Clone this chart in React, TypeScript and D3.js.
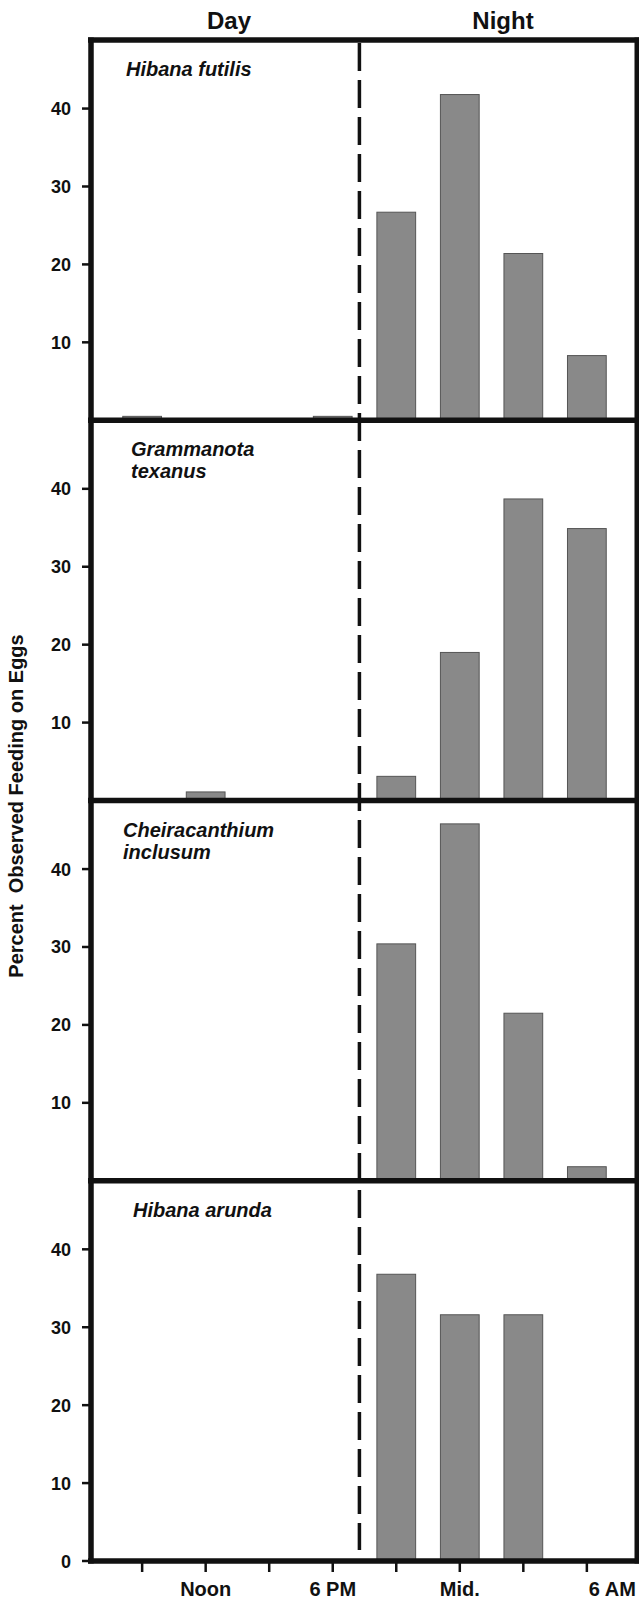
import * as d3 from 'd3'

// time points (every 3 h), only every other one is labelled
const times = ['9 AM', 'Noon', '3 PM', '6 PM', '9 PM', 'Mid.', '3 AM', '6 AM']
const shownLabels = ['', 'Noon', '', '6 PM', '', 'Mid.', '', '6 AM']

// percent observed feeding on eggs, one array per species
const hibanaFutilis = [0.5, 0, 0, 0.5, 26.7, 41.8, 21.4, 8.3]
const grammanotaTexanus = [0, 1.1, 0, 0, 3.1, 19.0, 38.7, 34.9]
const cheiracanthiumInclusum = [0, 0, 0, 0, 30.4, 45.8, 21.5, 1.8]
const hibanaArunda = [0, 0, 0, 0, 36.8, 31.6, 31.6, 0]

const panelNames = [
  ['Hibana futilis'],
  ['Grammanota', 'texanus'],
  ['Cheiracanthium', 'inclusum'],
  ['Hibana arunda'],
]
const panelValues = [hibanaFutilis, grammanotaTexanus, cheiracanthiumInclusum, hibanaArunda]
const yTicks = [10, 20, 30, 40]
const yMax = 48.8
const duskOffset = 0.42 // sunset line, in steps after 6 PM

const W = 639
const H = 1601
const left = 91
const right = 637
const top = 40
const bottom = 1561
const font = '"Liberation Sans", Arial, sans-serif'
const ink = '#111'

export default function App() {
  const x = d3.scaleBand().domain(times).range([left, right + 1]).paddingInner(0.39).paddingOuter(0.5)
  const bw = x.bandwidth()
  const panelH = (bottom - top) / panelNames.length
  const duskX = (x('6 PM') as number) + bw / 2 + duskOffset * x.step()
  const nameX = [126, 131, 123, 133]

  return (
    <div style={{ position: 'absolute', left: 0, top: 0 }}>
      <svg width={W} height={H} style={{ display: 'block', background: '#fff' }} fontFamily={font}>
        <text x={229} y={29} textAnchor="middle" fontSize={24} fontWeight="bold" fill={ink}>Day</text>
        <text x={503} y={29} textAnchor="middle" fontSize={24} fontWeight="bold" fill={ink}>Night</text>

        {panelValues.map((vals, p) => {
          const y0 = top + panelH * (p + 1)
          const y = d3.scaleLinear().domain([0, yMax]).range([y0, y0 - panelH])
          const ticks = p === panelValues.length - 1 ? [0, ...yTicks] : yTicks
          return (
            <g key={p}>
              {vals.map((v, i) =>
                v > 0 ? (
                  <rect
                    key={i}
                    x={x(times[i])}
                    y={y(v)}
                    width={bw}
                    height={y(0) - y(v)}
                    fill="#898989"
                    stroke="#555"
                    strokeWidth={1}
                  />
                ) : null
              )}
              {ticks.map(t => (
                <g key={t}>
                  <line x1={82} x2={90} y1={y(t)} y2={y(t)} stroke={ink} strokeWidth={2.5} />
                  <text x={71} y={y(t) + 6.5} textAnchor="end" fontSize={18} fontWeight="bold" fill={ink}>
                    {t}
                  </text>
                </g>
              ))}
              {panelNames[p].map((line, k) => (
                <text
                  key={k}
                  x={nameX[p]}
                  y={y0 - panelH + 36 + k * 22}
                  fontSize={20}
                  fontWeight="bold"
                  fontStyle="italic"
                  fill={ink}
                >
                  {line}
                </text>
              ))}
            </g>
          )
        })}

        {/* day / night boundary */}
        <line x1={duskX} x2={duskX} y1={top + 3} y2={1550} stroke={ink} strokeWidth={3.5} strokeDasharray="28 9" />

        {/* frame */}
        <line x1={left} x2={left} y1={top - 2.5} y2={bottom + 2.5} stroke={ink} strokeWidth={5.5} />
        <line x1={right} x2={right} y1={top - 2.5} y2={bottom + 2.5} stroke={ink} strokeWidth={5} />
        <line x1={left - 3} x2={W} y1={top} y2={top} stroke={ink} strokeWidth={5.5} />
        {panelNames.map((_, p) => {
          const yy = top + panelH * (p + 1)
          return <line key={p} x1={left - 3} x2={W} y1={yy} y2={yy} stroke={ink} strokeWidth={5.5} />
        })}

        {/* bottom axis ticks and labels */}
        {times.map((t, i) => {
          const cx = (x(t) as number) + bw / 2
          return (
            <g key={t}>
              <line x1={cx} x2={cx} y1={bottom} y2={bottom + 11} stroke={ink} strokeWidth={2.5} />
              {shownLabels[i] && (
                <text
                  x={i === times.length - 1 ? cx + 2 : cx}
                  y={1596}
                  textAnchor={i === times.length - 1 ? 'start' : 'middle'}
                  fontSize={20}
                  fontWeight="bold"
                  fill={ink}
                >
                  {shownLabels[i]}
                </text>
              )}
            </g>
          )
        })}

        <text
          transform="translate(23,806) rotate(-90)"
          textAnchor="middle"
          fontSize={20}
          fontWeight="bold"
          fill={ink}
          style={{ whiteSpace: 'pre' }}
        >
          {'Percent  Observed Feeding on Eggs'}
        </text>
      </svg>
    </div>
  )
}
